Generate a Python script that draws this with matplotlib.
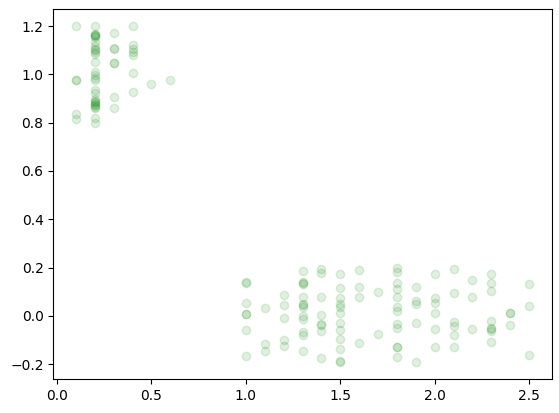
import numpy as np
import matplotlib
matplotlib.use('Agg')
import matplotlib.pyplot as plt

# petal width (x) with jittered class label (y)
x_setosa = ([0.1] * 5 + [0.2] * 29 + [0.3] * 7 + [0.4] * 7 + [0.5] + [0.6])
y_setosa = [
    # 0.1
    1.199, 0.976, 0.978, 0.836, 0.814,
    # 0.2
    1.199, 1.169, 1.165, 1.162, 1.160, 1.155, 1.134, 1.116, 1.107, 1.100,
    1.093, 1.086, 1.052, 1.010, 0.997, 0.983, 0.976, 0.935, 0.921, 0.900,
    0.890, 0.887, 0.880, 0.875, 0.873, 0.866, 0.859, 0.818, 0.798,
    # 0.3
    1.171, 1.111, 1.103, 1.045, 1.047, 0.905, 0.859,
    # 0.4
    1.199, 1.123, 1.107, 1.093, 1.079, 1.006, 0.925,
    # 0.5, 0.6
    0.962, 0.976,
]

x_other = ([1.0] * 7 + [1.1] * 3 + [1.2] * 5 + [1.3] * 13 + [1.4] * 8
           + [1.5] * 12 + [1.6] * 4 + [1.7] * 2 + [1.8] * 12 + [1.9] * 5
           + [2.0] * 6 + [2.1] * 6 + [2.2] * 3 + [2.3] * 8 + [2.4] * 3
           + [2.5] * 3)
y_other = [
    # 1.0
    0.138, 0.140, 0.055, 0.007, 0.009, -0.059, -0.165,
    # 1.1
    0.032, -0.117, -0.147,
    # 1.2
    0.085, 0.044, -0.009, -0.099, -0.126,
    # 1.3
    0.186, 0.140, 0.135, 0.131, 0.080, 0.048, 0.045, 0.037, 0.0, -0.014,
    -0.068, -0.078, -0.147,
    # 1.4
    0.193, 0.179, 0.080, 0.003, -0.034, -0.036, -0.064, -0.176,
    # 1.5
    0.172, 0.117, 0.072, 0.051, 0.035, 0.010, -0.030, -0.059, -0.096,
    -0.137, -0.188, -0.190,
    # 1.6
    0.188, 0.121, 0.076, -0.114,
    # 1.7
    0.100, -0.075,
    # 1.8
    0.197, 0.183, 0.134, 0.113, 0.076, 0.035, 0.021, -0.034, -0.051,
    -0.128, -0.130, -0.172,
    # 1.9
    0.121, 0.062, 0.048, -0.031, -0.192,
    # 2.0
    0.175, 0.073, 0.055, 0.010, -0.055, -0.130,
    # 2.1
    0.193, 0.096, -0.027, -0.041, -0.080, -0.130,
    # 2.2
    0.147, 0.080, -0.055,
    # 2.3
    0.172, 0.134, 0.103, -0.021, -0.051, -0.056, -0.062, -0.110,
    # 2.4
    0.010, 0.012, -0.038,
    # 2.5
    0.131, 0.039, -0.162,
]

x = np.array(x_setosa + x_other)
y = np.array(y_setosa + y_other)

fig = plt.figure(figsize=(5.59, 4.13), dpi=100)
fig.subplots_adjust(left=0.0954, right=0.987, bottom=0.0823, top=0.977)
ax = fig.add_subplot(111)
ax.scatter(x, y, color='g', alpha=0.12)

fig.savefig('out.png', dpi=100)
